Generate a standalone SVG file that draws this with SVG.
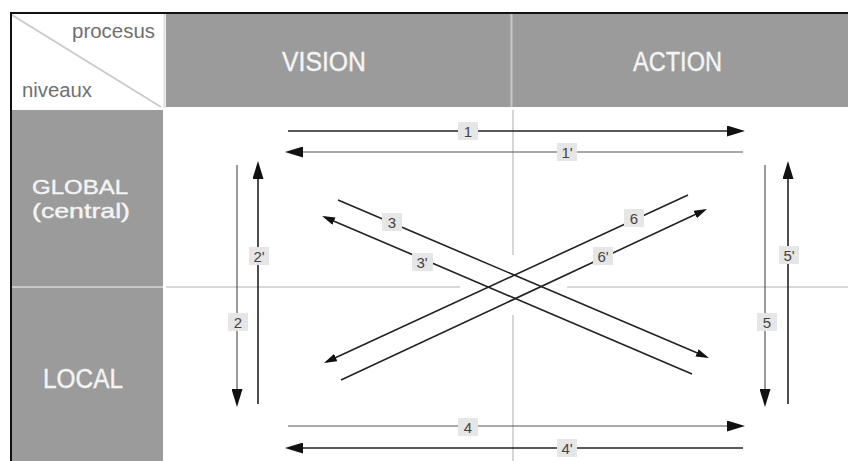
<svg xmlns="http://www.w3.org/2000/svg" width="848" height="461" viewBox="0 0 848 461">
<style>
.hd{font-family:"Liberation Sans",Arial,sans-serif;fill:#f4f4f4;stroke:#f4f4f4;stroke-width:0.4;}
.cn{font-family:"Liberation Sans",Arial,sans-serif;fill:#707070;font-size:20px;}
.grid{stroke:#cccccc;stroke-width:1.6;fill:none;}
.a{stroke:#222;stroke-width:1.6;fill:none;}
.b{stroke:#555;stroke-width:1.2;fill:none;}
.big{marker-end:url(#mb);}
.sm{marker-end:url(#ms);}
.lb rect{fill:#e6e6e6;}
.lb text{font-family:"Liberation Sans",Arial,sans-serif;font-size:15px;fill:#444;text-anchor:middle;}
</style>
<defs>
<marker id="mb" markerUnits="userSpaceOnUse" markerWidth="18" markerHeight="11" refX="14" refY="5.5" orient="auto"><path d="M0,0 L18,5.5 L0,11 z" fill="#111"/></marker>
<marker id="ms" markerUnits="userSpaceOnUse" markerWidth="13" markerHeight="8" refX="10" refY="4" orient="auto"><path d="M0,0 L13,4 L0,8 z" fill="#111"/></marker>
</defs>
<rect width="848" height="461" fill="#fff"/>
<g id="frame">
<rect x="12" y="14" width="151" height="93" fill="#fff"/>
<line x1="12" y1="15" x2="161" y2="107" stroke="#c8c8c8" stroke-width="1.5"/>
<rect x="166" y="14" width="682" height="93" fill="#9b9b9b"/>
<rect x="12" y="110" width="151" height="351" fill="#9b9b9b"/>
<line x1="164.5" y1="14" x2="164.5" y2="108" stroke="#dddddd" stroke-width="2"/>
<line x1="511.5" y1="14" x2="511.5" y2="107" stroke="#c8c8c8" stroke-width="2"/>
<line x1="12" y1="287" x2="163" y2="287" stroke="#c8c8c8" stroke-width="2"/>
<line x1="11" y1="12" x2="11" y2="461" stroke="#111" stroke-width="2"/>
<line x1="10" y1="13" x2="848" y2="13" stroke="#111" stroke-width="2"/>
</g>
<g id="grid">
<line class="grid" x1="166" y1="287" x2="460" y2="287"/>
<line class="grid" x1="567" y1="287" x2="848" y2="287"/>
<line class="grid" x1="513" y1="110" x2="513" y2="255"/>
<line class="grid" x1="513" y1="315" x2="513" y2="461"/>
</g>
<g id="corner">
<text class="cn" x="155" y="38" text-anchor="end" textLength="83" lengthAdjust="spacingAndGlyphs">procesus</text>
<text class="cn" x="22" y="97" textLength="70" lengthAdjust="spacingAndGlyphs">niveaux</text>
</g>
<g id="vision"><text class="hd" x="282" y="71" font-size="27" textLength="84" lengthAdjust="spacingAndGlyphs">VISION</text></g>
<g id="action"><text class="hd" x="633" y="71" font-size="27" textLength="89" lengthAdjust="spacingAndGlyphs">ACTION</text></g>
<g id="global"><text class="hd" x="32" y="194" font-size="21" textLength="96" lengthAdjust="spacingAndGlyphs">GLOBAL</text><text class="hd" x="32" y="218" font-size="21" textLength="98" lengthAdjust="spacingAndGlyphs">(central)</text></g>
<g id="local"><text class="hd" x="43" y="388" font-size="27" textLength="80" lengthAdjust="spacingAndGlyphs">LOCAL</text></g>
<g id="connectors">
<line class="a big" x1="288" y1="131" x2="741" y2="131"/>
<line class="b big" x1="743" y1="152" x2="289" y2="152"/>
<line class="b big" x1="288" y1="426" x2="741" y2="426"/>
<line class="a big" x1="743" y1="448" x2="289" y2="448"/>
<line class="b big" x1="237" y1="165" x2="237" y2="403"/>
<line class="a big" x1="258" y1="404" x2="258" y2="165"/>
<line class="b big" x1="765" y1="165" x2="765" y2="403"/>
<line class="a big" x1="788" y1="404" x2="788" y2="165"/>
<line class="a sm" x1="338" y1="200" x2="706.2" y2="356.8"/>
<line class="a sm" x1="692" y1="374" x2="324.8" y2="217.2"/>
<line class="a sm" x1="688" y1="195" x2="326.7" y2="361.7"/>
<line class="a sm" x1="341" y1="380" x2="704.3" y2="210.3"/>
<g class="lb">
<rect x="458" y="122" width="20" height="18"/><text x="468" y="137">1</text>
<rect x="557" y="143" width="20" height="18"/><text x="567" y="158">1'</text>
<rect x="249" y="247" width="20" height="18"/><text x="259" y="262">2'</text>
<rect x="228" y="313" width="20" height="18"/><text x="238" y="328">2</text>
<rect x="382" y="213" width="20" height="18"/><text x="392" y="228">3</text>
<rect x="412" y="253" width="21" height="18"/><text x="422" y="268">3'</text>
<rect x="624" y="209" width="20" height="18"/><text x="634" y="224">6</text>
<rect x="593" y="247" width="20" height="18"/><text x="603" y="262">6'</text>
<rect x="779" y="246" width="20" height="18"/><text x="789" y="261">5'</text>
<rect x="757" y="313" width="20" height="18"/><text x="767" y="328">5</text>
<rect x="458" y="418" width="20" height="18"/><text x="468" y="433">4</text>
<rect x="557" y="439" width="20" height="18"/><text x="567" y="454">4'</text>
</g>
</g>
</svg>
